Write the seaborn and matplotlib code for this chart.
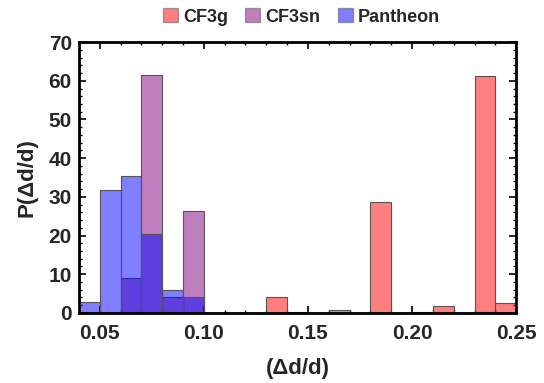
import numpy as np
import pandas as pd
import matplotlib
matplotlib.use("Agg")
import matplotlib.pyplot as plt
import seaborn as sns
from matplotlib.patches import Patch
from matplotlib.ticker import MultipleLocator, FormatStrFormatter

# Bin lower edges (width 0.01)
bin_lo = [0.04, 0.05, 0.06, 0.07, 0.08, 0.09, 0.10, 0.11, 0.12, 0.13, 0.14,
          0.15, 0.16, 0.17, 0.18, 0.19, 0.20, 0.21, 0.22, 0.23, 0.24]
cf3g = [0, 0, 0, 0, 0, 0, 0, 0, 0, 4.2, 0.2,
        0, 0.8, 0, 28.8, 0, 0.2, 1.8, 0, 61.2, 2.6]
cf3sn = [0, 0, 9.0, 61.5, 4.2, 26.3, 0, 0, 0, 0, 0,
         0, 0, 0, 0, 0, 0, 0, 0, 0.3, 0]
pantheon = [2.7, 31.8, 35.5, 20.4, 5.9, 4.0, 0, 0, 0, 0, 0,
            0, 0, 0, 0, 0, 0, 0, 0, 0, 0]
series_names = ["CF3g", "CF3sn", "Pantheon"]
series_colors = ["#ff0000", "#800080", "#0000ff"]

width = 0.01
edges = [round(b, 4) for b in bin_lo] + [round(bin_lo[-1] + width, 4)]
centers = [b + width / 2 for b in bin_lo]

sns.set_theme(style="white")
plt.rcParams['font.family'] = ['Liberation Sans', 'DejaVu Sans']
plt.rcParams['font.weight'] = 'bold'

fig = plt.figure(figsize=(5.44, 3.83), dpi=100)
ax = fig.add_axes([0.145, 0.183, 0.804, 0.707])

for name, vals, col in zip(series_names, [cf3g, cf3sn, pantheon], series_colors):
    df = pd.DataFrame({"x": centers, "w": vals})
    sns.histplot(data=df, x="x", weights="w", bins=edges, stat="count",
                 color=col, alpha=0.5, edgecolor="#555555", linewidth=0.8,
                 ax=ax)

ax.set_xlim(0.04, 0.25)
ax.set_ylim(0, 70)
ax.xaxis.set_major_locator(MultipleLocator(0.05))
ax.xaxis.set_minor_locator(MultipleLocator(0.01))
ax.yaxis.set_major_locator(MultipleLocator(10))
ax.yaxis.set_minor_locator(MultipleLocator(2))
ax.xaxis.set_major_formatter(FormatStrFormatter('%.2f'))
ax.tick_params(which='both', direction='in', top=True, right=True,
               bottom=True, left=True, color='black')
ax.tick_params(which='major', length=5, width=1.2, labelsize=15)
ax.tick_params(axis='x', which='major', pad=8)
ax.tick_params(axis='y', which='major', pad=5)
ax.tick_params(which='minor', length=2.5, width=1.0)
for lab in ax.get_xticklabels() + ax.get_yticklabels():
    lab.set_fontweight('bold')
for sp in ax.spines.values():
    sp.set_color('black')
    sp.set_linewidth(2)

ax.set_xlabel("(Δd/d)", fontsize=16, fontweight='bold', labelpad=11)
ax.set_ylabel("P(Δd/d)", fontsize=16, fontweight='bold', labelpad=8)

handles = [Patch(facecolor=c, alpha=0.5, edgecolor="#555555") for c in series_colors]
fig.legend(handles, series_names, loc='center', bbox_to_anchor=(0.554, 0.956),
           ncol=3, frameon=False, prop={'size': 13, 'weight': 'bold'},
           handlelength=0.83, handleheight=0.83, handletextpad=0.3,
           columnspacing=0.95, borderpad=0.1)

fig.savefig("out.png", dpi=100)
